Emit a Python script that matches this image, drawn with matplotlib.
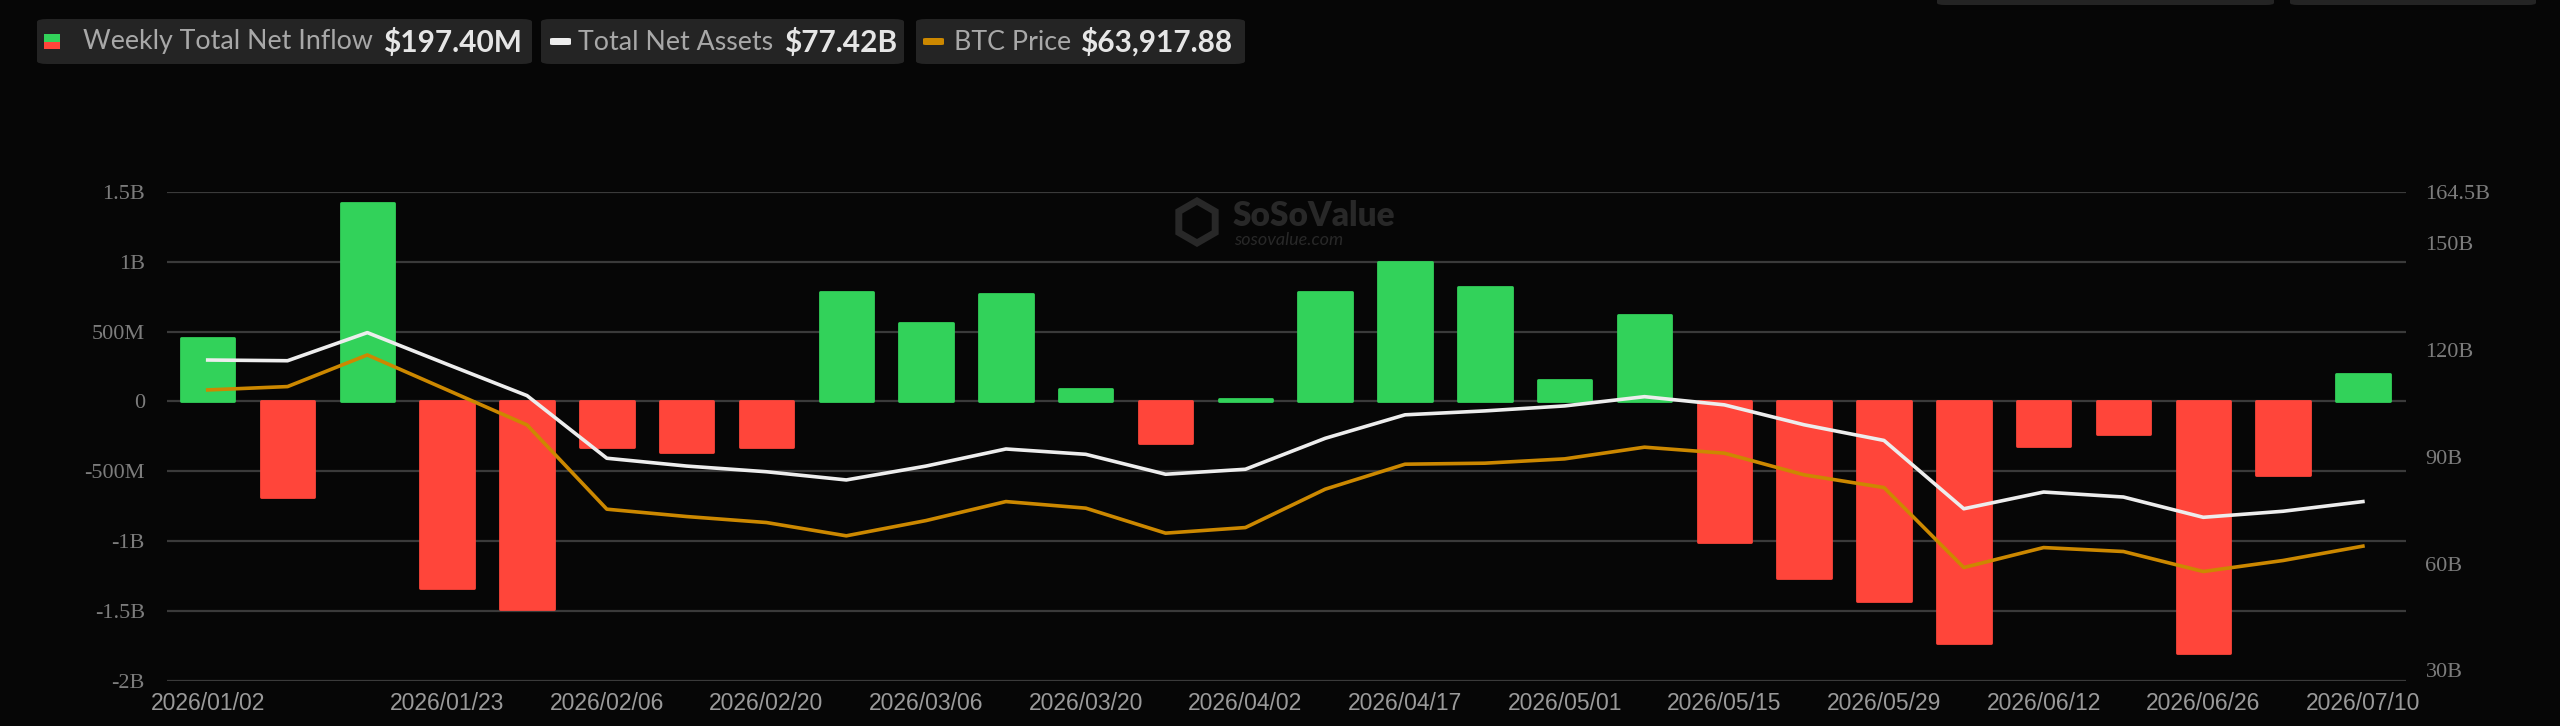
import matplotlib
matplotlib.use("Agg")
import matplotlib.pyplot as plt
from matplotlib.patches import FancyBboxPatch, RegularPolygon
from matplotlib.transforms import IdentityTransform
import numpy as np

# weekly data (values in billions USD for flows / assets, USD for BTC)
dates = ["2026/01/02", "2026/01/09", "2026/01/16", "2026/01/23", "2026/01/30",
         "2026/02/06", "2026/02/13", "2026/02/20", "2026/02/27", "2026/03/06",
         "2026/03/13", "2026/03/20", "2026/03/27", "2026/04/02", "2026/04/10",
         "2026/04/17", "2026/04/24", "2026/05/01", "2026/05/08", "2026/05/15",
         "2026/05/22", "2026/05/29", "2026/06/05", "2026/06/12", "2026/06/19",
         "2026/06/26", "2026/07/03", "2026/07/10"]
net_inflow = [0.456, -0.687, 1.42, -1.337, -1.485, -0.323, -0.364, -0.323, 0.784, 0.564,
              0.765, 0.09, -0.30, 0.014, 0.784, 0.994, 0.82, 0.15, 0.62, -1.007,
              -1.265, -1.43, -1.73, -0.32, -0.23, -1.80, -0.53, 0.1974]
net_assets = [117.2, 117.0, 124.9, 116.0, 107.2, 89.6, 87.4, 85.8, 83.5, 87.4,
              92.2, 90.7, 85.1, 86.5, 95.2, 101.8, 102.9, 104.3, 106.9, 104.6,
              99.0, 94.6, 75.4, 80.1, 78.7, 73.0, 74.7, 77.42]
btc_price = [90000, 90560, 95840, 90000, 84160, 70090, 68860, 67860, 65640, 68190,
             71360, 70260, 66090, 67020, 73430, 77600, 77770, 78490, 80440, 79440,
             75820, 73700, 60350, 63680, 63020, 59680, 61520, 63917.88]

left_ticks = [-2, -1.5, -1, -0.5, 0, 0.5, 1, 1.5]
left_labels = ["-2B", "-1.5B", "-1B", "-500M", "0", "500M", "1B", "1.5B"]
right_ticks = [30, 60, 90, 120, 150, 164.5]
right_labels = ["30B", "60B", "90B", "120B", "150B", "164.5B"]

BG = "#060606"
GREEN = "#32D25A"
RED = "#FF453A"
WHITE = "#EDEDED"
ORANGE = "#CC8800"
GRID = "#3A3A3A"
MARK = "#282828"

W, H = 2560, 726
fig = plt.figure(figsize=(W / 100, H / 100), dpi=100, facecolor=BG)

def fx(px):
    return px / W

def fy(py):
    return 1 - py / H

ax = fig.add_axes([fx(167), fy(681), fx(2406 - 167), (681 - 191.7) / H])
ax.set_facecolor(BG)
x = np.arange(len(dates))
colors = [GREEN if v >= 0 else RED for v in net_inflow]
ax.bar(x, net_inflow, width=0.67, color=colors, edgecolor=colors,
       linewidth=2, joinstyle="round", zorder=2)
ax.set_xlim(-0.51, 27.54)
ax.set_ylim(-2.0, 1.5)
ax.set_yticks(left_ticks)
ax.set_yticklabels(left_labels, family="Liberation Serif", fontsize=16, color="#7C7C7C")
ax.grid(axis="y", color=GRID, linewidth=1.6, zorder=0)
ax.set_axisbelow(True)
xt = [0] + list(range(3, 28, 2))
ax.set_xticks(xt)
ax.set_xticklabels([dates[i] for i in xt], family="Liberation Sans", fontsize=16.5,
                   color="#9A9A9A")
ax.tick_params(axis="both", length=0)
ax.tick_params(axis="y", pad=16)
ax.tick_params(axis="x", pad=8)
for s in ax.spines.values():
    s.set_visible(False)

# total net assets on right axis
ax2 = ax.twinx()
ax2.plot(x, net_assets, color=WHITE, linewidth=2.6, solid_joinstyle="round", zorder=4)
ax2.set_ylim(27.0, 164.5)
ax2.set_yticks(right_ticks)
ax2.set_yticklabels(right_labels, family="Liberation Serif", fontsize=16, color="#7C7C7C")
ax2.tick_params(axis="y", length=0, pad=14)
for s in ax2.spines.values():
    s.set_visible(False)

# btc price on hidden axis
ax3 = ax.twinx()
ax3.plot(x, btc_price, color=ORANGE, linewidth=2.6, solid_joinstyle="round", zorder=3)
ax3.set_ylim(41400, 123100)
ax3.axis("off")

# watermark
fig.patches.append(RegularPolygon((1197, H - 222), numVertices=6, radius=21,
                                  orientation=0, transform=IdentityTransform(),
                                  facecolor="none", edgecolor=MARK, linewidth=5))
fig.text(fx(1233), fy(216), "SoSoValue", family="Lato", fontweight="heavy", fontsize=24,
         color=MARK, ha="left", va="center")
fig.text(fx(1234), fy(240), "sosovalue.com", family="Lato", style="italic", fontsize=13,
         color=MARK, ha="left", va="center")

# legend boxes
boxes = [(37, 532), (541, 904), (916, 1245)]
for x0, x1 in boxes:
    fig.patches.append(FancyBboxPatch((fx(x0), fy(64)), fx(x1 - x0), (64 - 19) / H,
                                      boxstyle="round,pad=0,rounding_size=0.004",
                                      transform=fig.transFigure, facecolor="#242424",
                                      edgecolor="none"))
# cut-off boxes at top right
for x0, x1 in [(1937, 2274), (2290, 2536)]:
    fig.patches.append(FancyBboxPatch((fx(x0), fy(5)), fx(x1 - x0), 20 / H,
                                      boxstyle="round,pad=0,rounding_size=0.003",
                                      transform=fig.transFigure, facecolor="#242424",
                                      edgecolor="none"))

# legend icons
fig.patches.append(FancyBboxPatch((fx(44), fy(41.5)), fx(16), 7.5 / H, boxstyle="square,pad=0",
                                  transform=fig.transFigure, facecolor=GREEN, edgecolor="none"))
fig.patches.append(FancyBboxPatch((fx(44), fy(49)), fx(16), 7.5 / H, boxstyle="square,pad=0",
                                  transform=fig.transFigure, facecolor=RED, edgecolor="none"))
fig.patches.append(FancyBboxPatch((fx(550), fy(45)), fx(21), 7 / H,
                                  boxstyle="round,pad=0,rounding_size=0.0012",
                                  transform=fig.transFigure, facecolor=WHITE, edgecolor="none"))
fig.patches.append(FancyBboxPatch((fx(923), fy(45)), fx(21), 7 / H,
                                  boxstyle="round,pad=0,rounding_size=0.0012",
                                  transform=fig.transFigure, facecolor=ORANGE, edgecolor="none"))

legend_items = [
    (83, "Weekly Total Net Inflow", 383, "$197.40M"),
    (578, "Total Net Assets", 784, "$77.42B"),
    (954, "BTC Price", 1080, "$63,917.88"),
]
for lx, label, vx, value in legend_items:
    fig.text(fx(lx), fy(42), label, family="Lato", fontsize=19.3, color="#A8A8A8",
             ha="left", va="center")
    fig.text(fx(vx), fy(42), value, family="Lato", fontweight="bold", fontsize=21.5,
             color="#E6E6E6", ha="left", va="center")

fig.savefig("out.png", dpi=100, facecolor=BG)
